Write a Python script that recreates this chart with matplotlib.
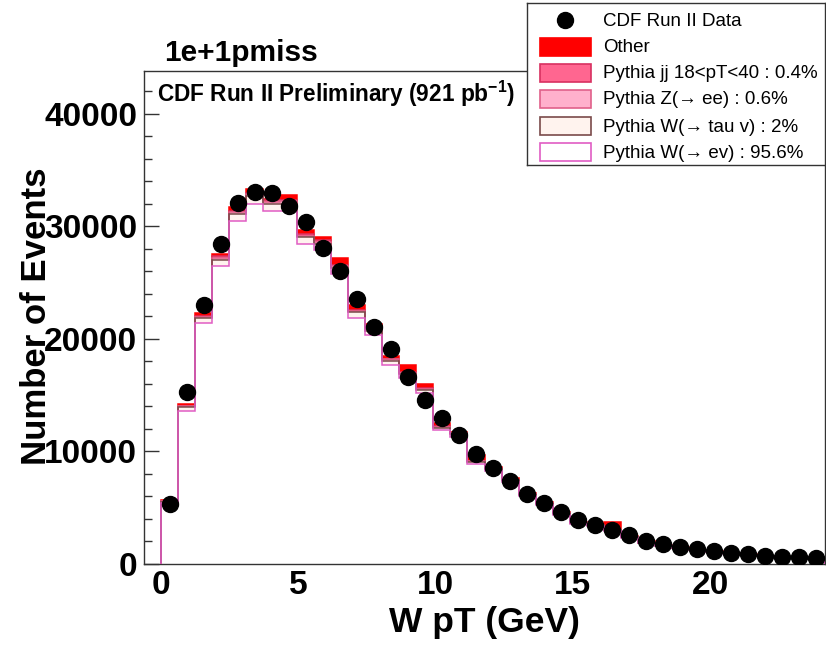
import numpy as np
import matplotlib
matplotlib.use("Agg")
import matplotlib.pyplot as plt
from matplotlib.patches import Rectangle
from matplotlib.ticker import MultipleLocator

# ---------------- data ----------------
bin_width = 0.62
n_bins = 39
edges = np.arange(n_bins + 1) * bin_width
centers = edges[:-1] + bin_width / 2

data = [5320, 15290, 22980, 28390, 32030, 33030, 32950, 31850, 30370, 28040,
        26020, 23580, 21060, 19140, 16620, 14610, 12930, 11450, 9760, 8540,
        7360, 6180, 5440, 4640, 3900, 3460, 3020, 2570, 2070, 1770,
        1540, 1300, 1150, 1000, 890, 710, 650, 590, 500]

w_enu = [5420, 13630, 21390, 26500, 30460, 32010, 31330, 31370, 28420, 27890,
         25780, 21900, 20320, 17700, 16510, 15160, 11870, 11290, 8895, 8245,
         7275, 6015, 5240, 4385, 3580, 3385, 2960, 2330, 1843, 1610,
         1397, 1213, 1057, 922, 805, 679, 592, 543, 456]
w_tau = [110, 280, 440, 550, 630, 660, 650, 650, 590, 575,
         530, 450, 420, 365, 340, 315, 245, 235, 185, 170,
         150, 125, 110, 90, 74, 70, 60, 48, 38, 33,
         29, 25, 22, 19, 17, 14, 12, 11, 9]
z_ee = [35, 85, 130, 160, 190, 200, 190, 190, 175, 170,
        160, 140, 125, 110, 100, 95, 75, 70, 55, 50,
        45, 35, 30, 27, 22, 21, 18, 14, 11, 10,
        9, 7, 7, 5, 5, 4, 4, 3, 3]
jj = [25, 55, 90, 110, 120, 130, 130, 130, 115, 115,
      110, 90, 85, 75, 70, 60, 50, 45, 35, 35,
      30, 25, 20, 18, 14, 14, 12, 8, 8, 7,
      5, 5, 4, 4, 3, 3, 2, 3, 2]
other = [60, 150, 250, 250, 300, 300, 150, 400, 400, 300,
         600, 400, 350, 200, 700, 400, 300, 100, 500, 100,
         100, 100, 100, 80, 60, 60, 700, 50, 150, 40,
         60, 30, 40, 30, 40, 20, 30, 20, 20]

labels = ["CDF Run II Data", "Other", "Pythia jj 18<pT<40 : 0.4%",
          "Pythia Z(\u2192 ee) : 0.6%", "Pythia W(\u2192 tau v) : 2%",
          "Pythia W(\u2192 ev) : 95.6%"]

# ---------------- style ----------------
fills = {"wenu": "#ffffff", "wtau": "#fff3ee", "zee": "#ffb0cc",
         "jj": "#ff6690", "other": "#ff0000"}
lines = {"wenu": "#e05cc4", "wtau": "#7a4a4a", "zee": "#e0608a",
         "jj": "#d83060", "other": "#ff0000"}

plt.rcParams["font.family"] = ["Liberation Sans", "DejaVu Sans"]
plt.rcParams["mathtext.fontset"] = "custom"
plt.rcParams["mathtext.rm"] = "Liberation Sans:bold"
plt.rcParams["mathtext.bf"] = "Liberation Sans:bold"

W, H = 826, 646
fig = plt.figure(figsize=(W / 100, H / 100), dpi=100)

ax_l, ax_r, ax_t, ax_b = 144, 825, 71, 564
ax = fig.add_axes([ax_l / W, 1 - ax_b / H, (ax_r - ax_l) / W, (ax_b - ax_t) / H])

c1 = np.array(w_enu, float)
c2 = c1 + np.array(w_tau)
c3 = c2 + np.array(z_ee)
c4 = c3 + np.array(jj)
c5 = c4 + np.array(other)

stack = [(c5, "other"), (c4, "jj"), (c3, "zee"), (c2, "wtau"), (c1, "wenu")]
for vals, key in stack:
    ax.stairs(vals, edges, fill=True, color=fills[key], baseline=0, zorder=2)
for vals, key in stack:
    ax.stairs(vals, edges, fill=False, color=lines[key], baseline=0,
              linewidth=1.1, zorder=3)

ax.plot(centers, data, "o", color="black", markersize=11.5, zorder=5)

ax.set_xlim(-0.62, 24.18)
ax.set_ylim(0, 43800)
ax.xaxis.set_major_locator(MultipleLocator(5))
ax.xaxis.set_minor_locator(MultipleLocator(1))
ax.yaxis.set_major_locator(MultipleLocator(10000))
ax.yaxis.set_minor_locator(MultipleLocator(2000))
ax.tick_params(which="both", direction="in", top=False, right=False,
               color="#333333", width=1.0)
ax.tick_params(which="major", length=11)
ax.tick_params(which="minor", length=5.5)
ax.tick_params(axis="y", which="major", pad=5, labelsize=24)
ax.tick_params(axis="x", which="major", pad=4, labelsize=24)
for lab in ax.get_xticklabels() + ax.get_yticklabels():
    lab.set_fontweight("bold")
for s in ax.spines.values():
    s.set_color("#333333")
    s.set_linewidth(1.0)

ax.set_xlabel("W pT (GeV)", fontsize=25.5, fontweight="bold", labelpad=4)
fig.text(37 / W, 1 - 316 / H, "Number of Events", rotation=90, fontsize=25,
         fontweight="bold", ha="center", va="center")

fig.text(164 / W, 1 - 61 / H, "1e+1pmiss", fontsize=21.5, fontweight="bold",
         ha="left", va="baseline")
fig.text(157 / W, 1 - 102 / H, r"CDF Run II Preliminary (921 pb$^{-1}$)",
         fontsize=16.3, fontweight="bold", ha="left", va="baseline")

# ---------------- legend box ----------------
lx0, lx1, ly0, ly1 = 527, 825, 3, 165
lax = fig.add_axes([lx0 / W, 1 - ly1 / H, (lx1 - lx0) / W, (ly1 - ly0) / H])
lax.set_xlim(lx0, lx1)
lax.set_ylim(ly1, ly0)
lax.set_xticks([])
lax.set_yticks([])
lax.set_facecolor("white")
for s in lax.spines.values():
    s.set_color("#333333")
    s.set_linewidth(1.0)

rows = [20, 47, 73, 99, 126, 152]
leg_keys = [None, "other", "jj", "zee", "wtau", "wenu"]
for y, key, txt in zip(rows, leg_keys, labels):
    if key is None:
        lax.plot([565], [y], "o", color="black", markersize=11.5)
    else:
        lax.add_patch(Rectangle((539.5, y - 9), 51.5, 18, facecolor=fills[key],
                                edgecolor=lines[key], linewidth=1.2))
    lax.text(603, y + 1, txt, fontsize=13.5, ha="left", va="center")

fig.savefig("out.png", dpi=100)
